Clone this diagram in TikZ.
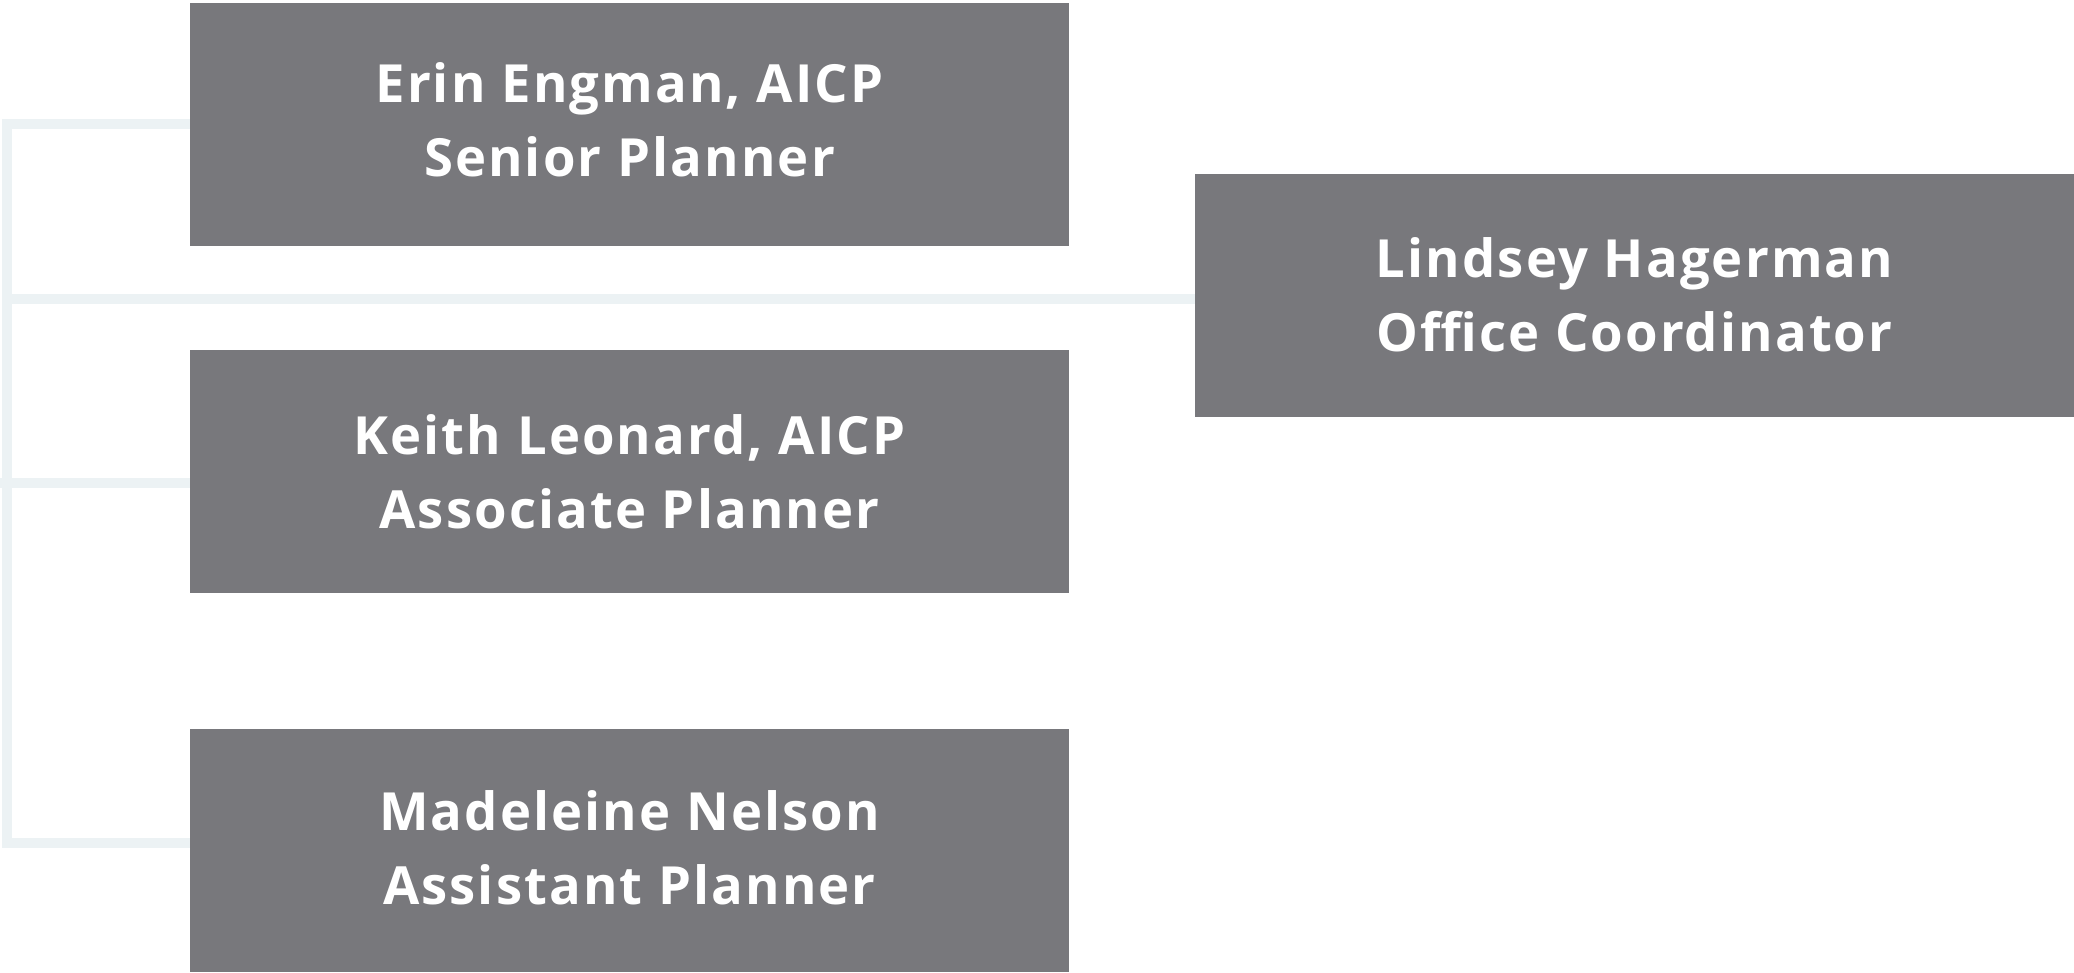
\documentclass[tikz,border=0pt]{standalone}
\usepackage{fontspec}
\setmainfont[LetterSpace=4.0]{Open Sans}
\usetikzlibrary{positioning}
\definecolor{boxgray}{RGB}{120,120,124}
\definecolor{linkblue}{RGB}{236,242,244}

\begin{document}
\begin{tikzpicture}[x=0.5pt,y=-0.5pt]
            \tikzstyle{staff}=[rectangle, fill=boxgray, text=white, align=center, inner sep=0pt, text depth=4pt, minimum width=439.5pt, minimum height=121.5pt, font=\bfseries\fontsize{26.3}{37}\selectfont]
            \tikzstyle{connect}=[draw=linkblue, line width=5pt]
            \useasboundingbox (0,0) rectangle (2074,973);
            % left branch of planners
            \node[staff, text depth=5.4pt] (EE) at (629.5,124.5){Erin Engman, AICP\\Senior Planner};
            \node[staff, text depth=-2.6pt] (KL) at (629.5,471.5){Keith Leonard, AICP\\Associate Planner};
            \node[staff, text depth=2.6pt] (MN) at (629.5,850.5){Madeleine Nelson\\Assistant Planner};
            \node[staff, text depth=1.4pt] (LH) at (1634.5,295.5){Lindsey Hagerman\\Office Coordinator};
            % trunk and the stubs off it
            \coordinate (top) at (7,119);
            \coordinate (bot) at (7,843);
            \coordinate (jEE) at (2,124);
            \coordinate (jLH) at (6,299);
            \coordinate (jKL) at (0,483);
            \coordinate (jMN) at (2,843);
            \path[-] (top) edge [connect] (bot);
            \path[-] (jEE) edge [connect] (EE.west |- jEE);
            \path[-] (jLH) edge [connect] (LH.west |- jLH);
            \path[-] (jKL) edge [connect] (KL.west |- jKL);
            \path[-] (jMN) edge [connect] (MN.west |- jMN);
        \end{tikzpicture}
\end{document}
